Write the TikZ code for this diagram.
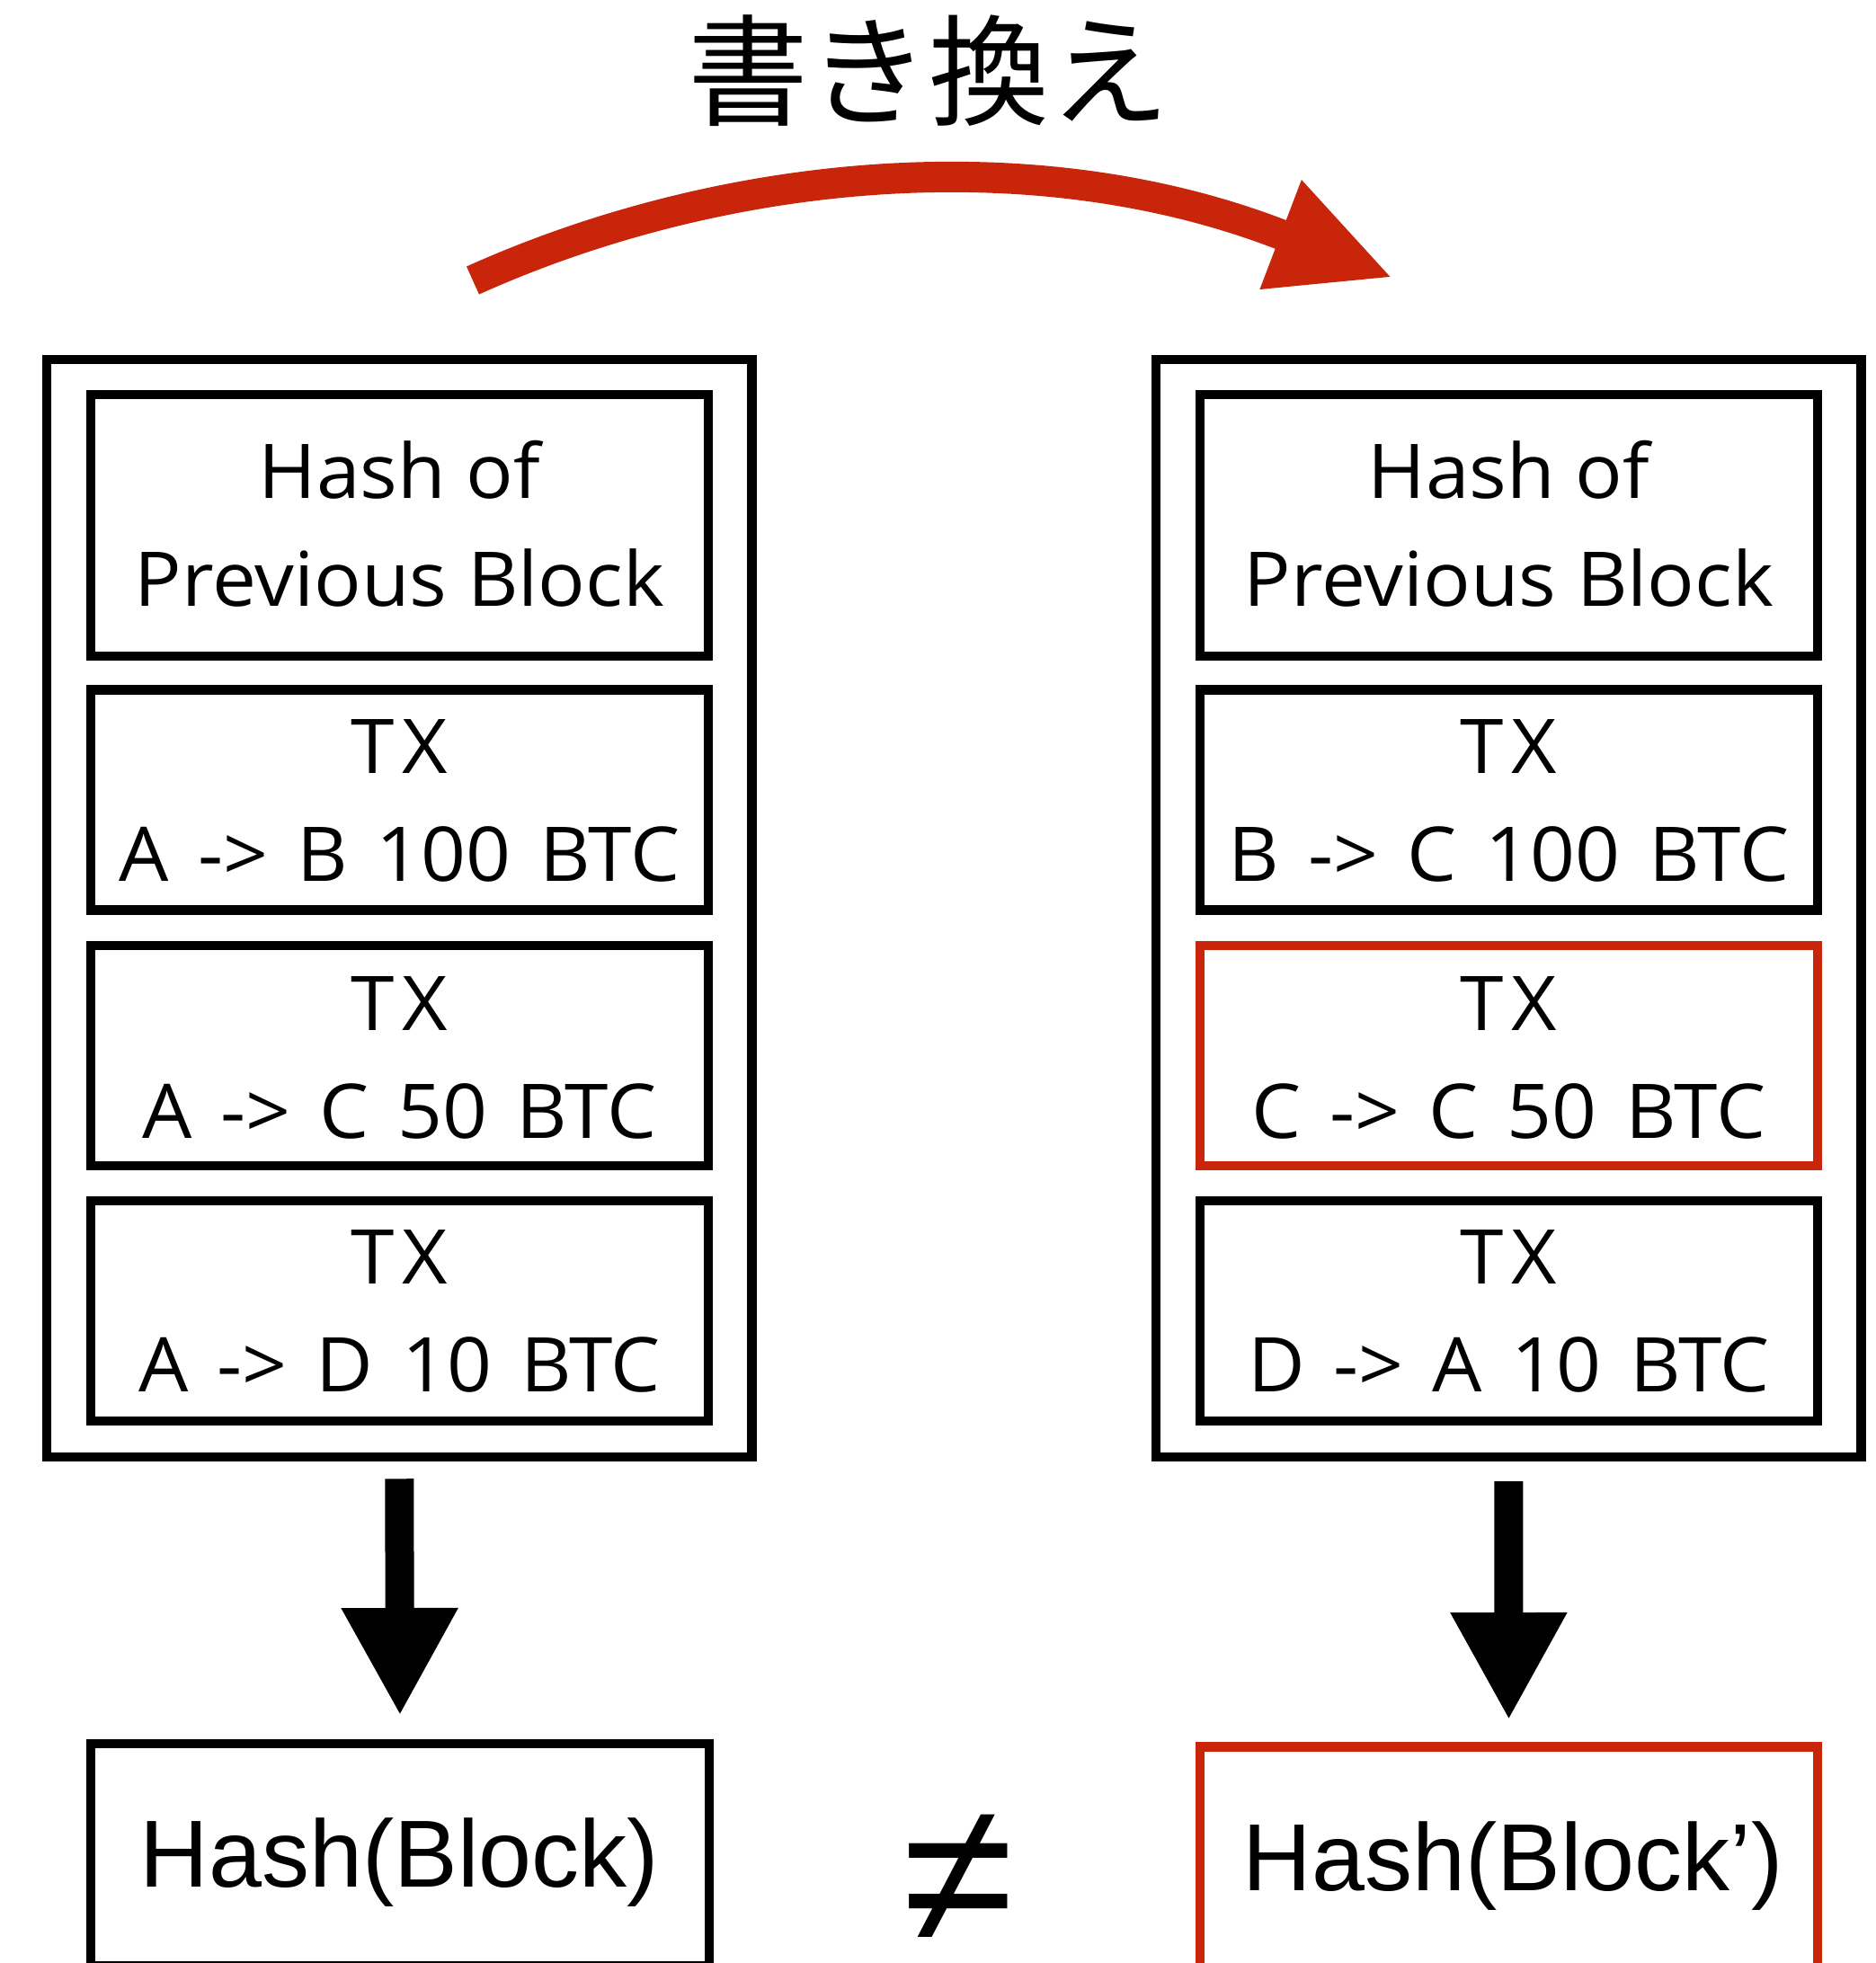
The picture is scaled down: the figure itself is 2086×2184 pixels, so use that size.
\documentclass[tikz,border=0pt]{standalone}
\usepackage{fontspec}
\setmainfont{Open Sans}[FakeStretch=1.04]
\newfontfamily\jpfont{Noto Sans CJK JP}
\newfontfamily\hashfont{Liberation Sans}
\usetikzlibrary{arrows.meta}
\definecolor{alertred}{RGB}{200,37,10}
\newcommand\txhead{T\kern9pt X}
\newcommand\widespaces{\spaceskip=32pt\relax}
\tikzset{
  blockframe/.style={draw=black, line width=10.5pt, inner sep=0pt, minimum width=784.5pt, minimum height=1221pt},
  itembox/.style={draw=black, line width=10.5pt, inner sep=0pt, minimum width=687pt},
  changedbox/.style={itembox, draw=alertred},
  linetext/.style={font=\fontsize{84}{100}\selectfont, anchor=base, inner sep=0pt},
  txtext/.style={linetext, execute at begin node=\widespaces},
  hashtext/.style={font=\hashfont\fontsize{106}{110}\selectfont, anchor=base, inner sep=0pt},
  hasharrow/.style={line width=32pt, -{Triangle[width=121pt,length=120pt]}},
  rewrite/.style={draw=alertred, line width=34pt}
}
\begin{document}
\begin{tikzpicture}[x=1pt,y=-1pt]
\useasboundingbox (0,0) rectangle (2086,2184);
\fill[white] (0,0) rectangle (2086,2184);
\clip (0,0) rectangle (2086,2184);

% title and rewrite arrow
\node[font=\jpfont\fontsize{134}{134}\selectfont, inner sep=0pt] (title) at (1033,79) {書き換え};
\coordinate (rwStart) at (526,312);
\coordinate (rwEnd) at (1425,261);
\draw[rewrite] (rwStart) .. controls (799,189) and (1145,153) .. (rwEnd);
\fill[alertred] (1447.9,200) -- (1546.4,307.9) -- (1401.4,322) -- cycle;

% original block
\node[blockframe] (Lblock) at (444.25,1010.5) {};
\node[itembox, minimum height=291pt] (Lprev) at (444.5,584.5) {};
\node[itembox, minimum height=245pt] (Ltx1) at (444.5,890) {};
\node[itembox, minimum height=245pt] (Ltx2) at (444.5,1174.5) {};
\node[itembox, minimum height=245pt] (Ltx3) at (444.5,1458.5) {};
\node[linetext] (LprevA) at (444.5,554.7) {Hash of};
\node[linetext] (LprevB) at (444.5,674.6) {Previous Block};
\node[linetext] (Ltx1A) at (444.5,860) {\txhead};
\node[txtext] (Ltx1B) at (444.5,980) {A -> B 100 BTC};
\node[linetext] (Ltx2A) at (444.5,1146) {\txhead};
\node[txtext] (Ltx2B) at (444.5,1266) {A -> C 50 BTC};
\node[linetext] (Ltx3A) at (444.5,1428) {\txhead};
\node[txtext] (Ltx3B) at (444.5,1548) {A -> D 10 BTC};

% rewritten block
\node[blockframe] (Rblock) at (1678.25,1010.5) {};
\node[itembox, minimum height=291pt] (Rprev) at (1678.5,584.5) {};
\node[itembox, minimum height=245pt] (Rtx1) at (1678.5,890) {};
\node[changedbox, minimum height=245pt] (Rtx2) at (1678.5,1174.5) {};
\node[itembox, minimum height=245pt] (Rtx3) at (1678.5,1458.5) {};
\node[linetext] (RprevA) at (1678.5,554.7) {Hash of};
\node[linetext] (RprevB) at (1678.5,674.6) {Previous Block};
\node[linetext] (Rtx1A) at (1678.5,860) {\txhead};
\node[txtext] (Rtx1B) at (1678.5,980) {B -> C 100 BTC};
\node[linetext] (Rtx2A) at (1678.5,1146) {\txhead};
\node[txtext] (Rtx2B) at (1678.5,1266) {C -> C 50 BTC};
\node[linetext] (Rtx3A) at (1678.5,1428) {\txhead};
\node[txtext] (Rtx3B) at (1678.5,1548) {D -> A 10 BTC};

% hashes of the two blocks
\node[itembox, minimum width=688pt, minimum height=247pt] (Lhash) at (445,2063.5) {};
\node[changedbox, minimum height=251pt] (Rhash) at (1678.5,2069) {};
\node[hashtext] (LhashT) at (444.5,2099) {Hash(Block)};
\node[hashtext] (RhashT) at (1683,2103) {Hash(Block’)};
\node[font=\hashfont\fontsize{225}{225}\selectfont, inner sep=0pt] (neq) at (1066,2090) {≠};

\draw[hasharrow, shorten <=19pt, shorten >=25.75pt] (Lblock.south) -- (Lhash.north);
\draw[hasharrow, shorten <=21.75pt, shorten >=24.25pt] (Rblock.south) -- (Rhash.north);
\end{tikzpicture}
\end{document}
